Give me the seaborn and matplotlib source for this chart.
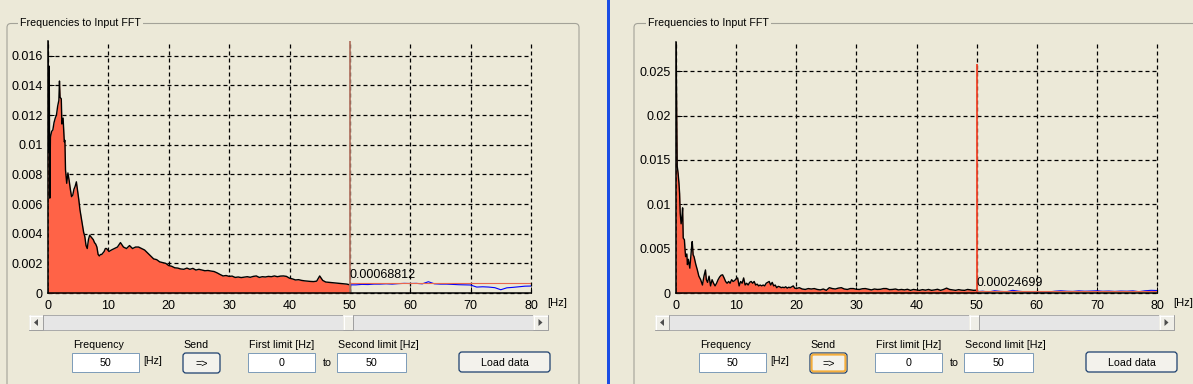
import numpy as np
import pandas as pd
import matplotlib
matplotlib.use('Agg')
import matplotlib.pyplot as plt
import seaborn as sns
from matplotlib.patches import Rectangle, FancyBboxPatch, Polygon

# ---------------- data ----------------
x_ticks = [0, 10, 20, 30, 40, 50, 60, 70, 80]
x_tick_labels = ['0', '10', '20', '30', '40', '50', '60', '70', '80']
left_y_ticks = [0, 0.002, 0.004, 0.006, 0.008, 0.010, 0.012, 0.014, 0.016]
left_y_tick_labels = ['0', '0.002', '0.004', '0.006', '0.008', '0.01', '0.012', '0.014', '0.016']
right_y_ticks = [0, 0.005, 0.010, 0.015, 0.020, 0.025]
right_y_tick_labels = ['0', '0.005', '0.01', '0.015', '0.02', '0.025']

# left spectrum (amplitudes in units of 1e-3)
left_freq_low = [0.0, 0.1, 0.2, 0.3, 0.4, 0.6, 0.8, 1.0, 1.2, 1.4, 1.6, 1.8, 1.9, 2.0, 2.2,
                 2.3, 2.5, 2.7, 2.8, 2.9, 3.1, 3.3, 3.5, 3.7, 3.9, 4.1, 4.3, 4.5, 4.7, 4.9,
                 5.1, 5.3, 5.5, 5.7, 5.9, 6.1, 6.3, 6.5, 6.7, 6.9, 7.1, 7.3, 7.5, 7.7, 7.9,
                 8.1, 8.3, 8.5, 8.7, 8.9, 9.1, 9.3, 9.5, 9.7, 9.9, 10.1]
left_amp_low = [17.2, 9.5, 15.3, 6.4, 10.5, 10.9, 11.0, 11.5, 11.8, 12.0, 12.6, 13.0, 14.3, 13.2, 13.1,
                11.4, 11.8, 10.2, 10.3, 8.3, 7.4, 8.1, 7.6, 7.0, 6.5, 6.6, 7.0, 7.2, 7.5, 6.9,
                6.3, 5.6, 5.1, 4.6, 4.1, 3.8, 3.2, 3.0, 3.6, 3.9, 3.8, 3.7, 3.6, 3.4, 3.3,
                3.1, 2.6, 2.5, 2.6, 2.6, 2.7, 2.8, 3.0, 3.0, 2.9, 2.8]
left_freq_high = np.arange(10.5, 50.01, 0.5)
left_amp_high = [2.9, 3.0, 3.1, 3.4, 3.1, 3.0, 3.2, 3.0, 3.1, 3.1,
                 3.0, 2.9, 2.7, 2.5, 2.3, 2.25, 2.1, 2.05, 2.0, 1.85,
                 1.8, 1.7, 1.68, 1.62, 1.6, 1.68, 1.6, 1.66, 1.55, 1.6,
                 1.55, 1.5, 1.52, 1.48, 1.45, 1.36, 1.25, 1.15, 1.18, 1.12,
                 1.14, 1.05, 1.08, 1.04, 1.07, 1.1, 1.06, 1.12, 1.15, 1.05,
                 1.1, 1.08, 1.12, 1.1, 1.15, 1.1, 1.14, 1.15, 1.12, 1.0,
                 0.95, 0.88, 0.9, 0.85, 0.82, 0.8, 0.78, 0.77, 0.8, 1.15,
                 0.85, 0.74, 0.72, 0.7, 0.68, 0.66, 0.64, 0.62, 0.6, 0.55]
blue_freq = np.arange(50, 80.01, 1.0)
left_blue_amp = [0.55, 0.55, 0.58, 0.57, 0.6, 0.6, 0.62, 0.6, 0.63, 0.65, 0.64,
                 0.65, 0.62, 0.76, 0.62, 0.6, 0.6, 0.58, 0.56, 0.55, 0.54,
                 0.4, 0.42, 0.4, 0.36, 0.22, 0.35, 0.38, 0.42, 0.46, 0.47]
left_value = 0.00068812
left_marker_top = 0.0170
left_ymax = 0.0170

# right spectrum (amplitudes in units of 1e-3)
right_freq_low = [0.0, 0.1, 0.2, 0.35, 0.5, 0.6, 0.7, 0.85, 1.0, 1.1, 1.2, 1.4, 1.5, 1.6, 1.8,
                  1.9, 2.05, 2.3, 2.45, 2.6, 2.7, 2.85, 3.0, 3.3, 3.55, 3.8, 4.1, 4.4, 4.65, 4.9, 5.05]
right_amp_low = [29.0, 21.5, 14.3, 13.5, 12.3, 11.2, 9.0, 7.8, 8.6, 9.6, 6.2, 6.0, 4.9, 4.1, 4.4,
                 3.2, 3.8, 2.8, 4.0, 5.2, 5.8, 4.3, 4.1, 3.2, 2.6, 1.9, 1.5, 0.9, 1.9, 2.6, 1.5]
right_freq_mid = np.arange(5.25, 20.01, 0.25)
right_amp_mid = [1.2, 1.9, 0.8, 1.5, 1.1, 0.8, 1.1, 1.5, 1.8, 2.0, 2.05, 1.7,
                 1.3, 1.1, 1.3, 1.1, 1.5, 1.3, 1.4, 1.6, 1.7, 0.8, 1.3, 1.1,
                 1.7, 0.9, 1.1, 0.9, 1.2, 1.3, 1.1, 1.3, 0.9, 1.0, 0.8, 0.9,
                 0.8, 0.9, 0.8, 1.1, 1.2, 1.3, 0.9, 1.2, 0.8, 0.9, 0.6, 0.75,
                 0.7, 0.6, 0.65, 0.6, 0.7, 0.55, 0.65, 0.6, 0.7, 0.8, 0.55, 0.5]
right_freq_high = np.arange(20.5, 50.01, 0.5)
right_amp_high = [0.6, 0.45, 0.4, 0.5, 0.45, 0.5, 0.4, 0.35, 0.45, 0.3,
                  0.6, 0.5, 0.45, 0.55, 0.6, 0.45, 0.4, 0.5, 0.5, 0.42,
                  0.4, 0.48, 0.5, 0.42, 0.35, 0.45, 0.4, 0.42, 0.5, 0.5,
                  0.38, 0.4, 0.45, 0.35, 0.4, 0.35, 0.42, 0.3, 0.4, 0.35,
                  0.3, 0.38, 0.32, 0.4, 0.3, 0.35, 0.42, 0.3, 0.4, 0.55,
                  0.4, 0.35, 0.3, 0.38, 0.32, 0.3, 0.4, 0.35, 0.3, 0.32]
right_blue_amp = [0.15, 0.2, 0.12, 0.25, 0.18, 0.15, 0.3, 0.2, 0.14, 0.15, 0.14,
                  0.15, 0.12, 0.2, 0.25, 0.2, 0.18, 0.24, 0.2, 0.22, 0.25,
                  0.2, 0.22, 0.18, 0.22, 0.2, 0.24, 0.15, 0.25, 0.3, 0.28]
right_value = 0.00024699
right_marker_top = 0.0258
right_ymax = 0.0283

frequency_value = 50
first_limit = 0
second_limit = 50
x_max = 80

# ---------------- styling ----------------
sns.set_theme(style='white')
plt.rcParams['font.family'] = ['Liberation Sans', 'DejaVu Sans']
plt.rcParams['text.color'] = 'black'
plt.rcParams['xtick.color'] = 'black'
plt.rcParams['ytick.color'] = 'black'

W, H = 1193, 384
BG = '#ECE9D8'
UI_FS = 7.7
fig = plt.figure(figsize=(W / 100, H / 100), dpi=100, facecolor=BG)

ui = fig.add_axes([0, 0, 1, 1], zorder=0)
ui.set_xlim(0, W)
ui.set_ylim(H, 0)
ui.axis('off')


def rect(x0, y0, x1, y1, fc, ec='none', lw=0.72, z=1):
    ui.add_patch(Rectangle((x0, y0), x1 - x0, y1 - y0, facecolor=fc,
                           edgecolor=ec, linewidth=lw, zorder=z))


def hline(x0, x1, y, c, lw=0.72, z=2):
    ui.plot([x0, x1], [y, y], color=c, lw=lw, zorder=z, solid_capstyle='butt')


def vline(x, y0, y1, c, lw=0.72, z=2):
    ui.plot([x, x], [y0, y1], color=c, lw=lw, zorder=z, solid_capstyle='butt')


def bevel(x0, y0, x1, y1, fc='#EFEEE7'):
    rect(x0, y0, x1, y1, fc, z=2)
    hline(x0, x1, y0 + 0.5, 'white', z=3)
    vline(x0 + 0.5, y0, y1, 'white', z=3)
    hline(x0, x1, y1 - 0.5, '#A0A0A0', z=3)
    vline(x1 - 0.5, y0, y1, '#A0A0A0', z=3)


def group_box(x0, x1, tx, title):
    ui.add_patch(FancyBboxPatch((x0, 23.5), x1 - x0, 420, boxstyle='round,pad=0,rounding_size=4',
                                fc='none', ec='#A3A298', lw=0.8, zorder=1))
    ui.text(tx, 23.5, title, fontsize=UI_FS, ha='left', va='center', zorder=3,
            bbox=dict(fc=BG, ec='none', pad=1.6))


def scrollbar(x0, x1, value):
    y0, y1 = 315, 330
    rect(x0, y0, x1, y1, '#E6E6E6', '#ABABAB', z=1)
    bevel(x0, y0, x0 + 14, y1)
    bevel(x1 - 15, y0, x1, y1)
    inner0, inner1 = x0 + 14, x1 - 15
    tx = inner0 + (value / x_max) * (inner1 - inner0 - 10)
    bevel(tx, y0, tx + 10, y1)
    cy = (y0 + y1) / 2
    ui.add_patch(Polygon([(x0 + 5, cy), (x0 + 9, cy - 3.5), (x0 + 9, cy + 3.5)],
                         fc='#4D4D4D', ec='none', zorder=4))
    ui.add_patch(Polygon([(x1 - 5.5, cy), (x1 - 9.5, cy - 3.5), (x1 - 9.5, cy + 3.5)],
                         fc='#4D4D4D', ec='none', zorder=4))


def textbox(x0, x1, text):
    rect(x0, 353, x1, 372, 'white', '#7F9DB9', z=2)
    ui.text((x0 + x1) / 2, 366.5, text, fontsize=UI_FS, ha='center', va='baseline', zorder=3)


def button(x0, y0, x1, y1, text, focus=False):
    ui.add_patch(FancyBboxPatch((x0, y0), x1 - x0, y1 - y0, boxstyle='round,pad=0,rounding_size=3',
                                fc='#F3F2EC', ec='#1C3F6E', lw=0.9, zorder=2))
    if focus:
        ui.add_patch(FancyBboxPatch((x0 + 1.6, y0 + 1.6), x1 - x0 - 3.2, y1 - y0 - 3.2,
                                    boxstyle='round,pad=0,rounding_size=2',
                                    fc='none', ec='#F5AE3C', lw=1.5, zorder=3))
    ui.text((x0 + x1) / 2, (y0 + y1) / 2 + 3.5, text, fontsize=UI_FS, ha='center',
            va='baseline', zorder=4)


def controls(dx):
    ui.text(73 + dx, 348, 'Frequency', fontsize=UI_FS, ha='left', va='baseline')
    textbox(72 + dx, 139 + dx, str(frequency_value))
    ui.text(143 + dx, 364, '[Hz]', fontsize=UI_FS, ha='left', va='baseline')
    ui.text(183 + dx, 348, 'Send', fontsize=UI_FS, ha='left', va='baseline')
    button(183 + dx, 353, 220 + dx, 373, '=>', focus=(dx > 0))
    ui.text(249 + dx, 348, 'First limit [Hz]', fontsize=UI_FS, ha='left', va='baseline')
    textbox(248 + dx, 315 + dx, str(first_limit))
    ui.text(323 + dx, 366.5, 'to', fontsize=UI_FS, ha='left', va='baseline')
    ui.text(338 + dx, 348, 'Second limit [Hz]', fontsize=UI_FS, ha='left', va='baseline')
    textbox(337 + dx, 406 + dx, str(second_limit))
    button(459 + dx, 352, 550 + dx, 372, 'Load data')


# panels
group_box(7, 579, 20, 'Frequencies to Input FFT')
group_box(634, 1300, 648, 'Frequencies to Input FFT')
rect(607, -5, 610, 400, '#1A4DE4', z=5)
scrollbar(29, 548, frequency_value)
scrollbar(655, 1174, frequency_value)
controls(0)
controls(627)
ui.text(547, 305.5, '[Hz]', fontsize=8, ha='left', va='baseline')
ui.text(1173, 305.5, '[Hz]', fontsize=8, ha='left', va='baseline')


def px_axes(x0, y0, x1, y1):
    return fig.add_axes([x0 / W, 1 - y1 / H, (x1 - x0) / W, (y1 - y0) / H], zorder=2)


def chart(ax, freq, amp, blue_amp, value, marker_top, marker_color, yticks, ylabels, ymax):
    ax.set_facecolor('none')
    freq = np.asarray(freq, float)
    amp = np.asarray(amp, float) * 1e-3
    df = pd.DataFrame({'f': freq, 'a': amp})
    ax.fill_between(freq, 0, amp, color='#FF6347', lw=0, zorder=2)
    sns.lineplot(data=df, x='f', y='a', ax=ax, color='black', lw=1.0, estimator=None,
                 sort=False, zorder=3)
    ax.plot([freq[-1], freq[-1]], [0, amp[-1]], color='black', lw=1.0, zorder=3)
    bdf = pd.DataFrame({'f': blue_freq, 'a': np.asarray(blue_amp) * 1e-3})
    sns.lineplot(data=bdf, x='f', y='a', ax=ax, color='#0000FF', lw=0.8, estimator=None,
                 sort=False, zorder=3)
    ax.plot([50, x_max], [value, value], color='#E8674E', lw=0.8, zorder=4)
    ax.plot([50, 50], [0, marker_top], color=marker_color, lw=1.3, zorder=4,
            solid_capstyle='butt')
    ax.annotate(f'{value:.8f}'.rstrip('0'), xy=(50, value), xytext=(0, 3.2),
                textcoords='offset points', fontsize=9, ha='left', va='baseline', zorder=5)
    ax.set_xlim(0, x_max)
    ax.set_ylim(0, ymax)
    ax.set_xticks(x_ticks)
    ax.set_xticklabels(x_tick_labels)
    ax.set_yticks(yticks)
    ax.set_yticklabels(ylabels)
    ax.set_xlabel('')
    ax.set_ylabel('')
    ax.set_axisbelow(True)
    ax.grid(True, color='black', linestyle=(0, (3.2, 2.4)), linewidth=0.9)
    for gl in ax.get_xgridlines() + ax.get_ygridlines():
        gl.set_clip_on(False)
    ax.tick_params(axis='both', direction='in', length=4.3, width=0.72, labelsize=9,
                   bottom=True, left=True, top=False, right=False, colors='black')
    ax.tick_params(axis='x', pad=5)
    ax.tick_params(axis='y', pad=3.6)
    for s in ['top', 'right']:
        ax.spines[s].set_visible(False)
    for s in ['left', 'bottom']:
        ax.spines[s].set_color('black')
        ax.spines[s].set_linewidth(1.1)
        ax.spines[s].set_zorder(4)


axL = px_axes(48, 41, 531, 293)
chart(axL, list(left_freq_low) + list(left_freq_high), list(left_amp_low) + list(left_amp_high),
      left_blue_amp, left_value, left_marker_top, '#B27563',
      left_y_ticks, left_y_tick_labels, left_ymax)

axR = px_axes(676, 42, 1157, 293)
chart(axR, list(right_freq_low) + list(right_freq_mid) + list(right_freq_high),
      list(right_amp_low) + list(right_amp_mid) + list(right_amp_high),
      right_blue_amp, right_value, right_marker_top, '#F0452A',
      right_y_ticks, right_y_tick_labels, right_ymax)

fig.savefig('out.png', dpi=100, facecolor=BG)
